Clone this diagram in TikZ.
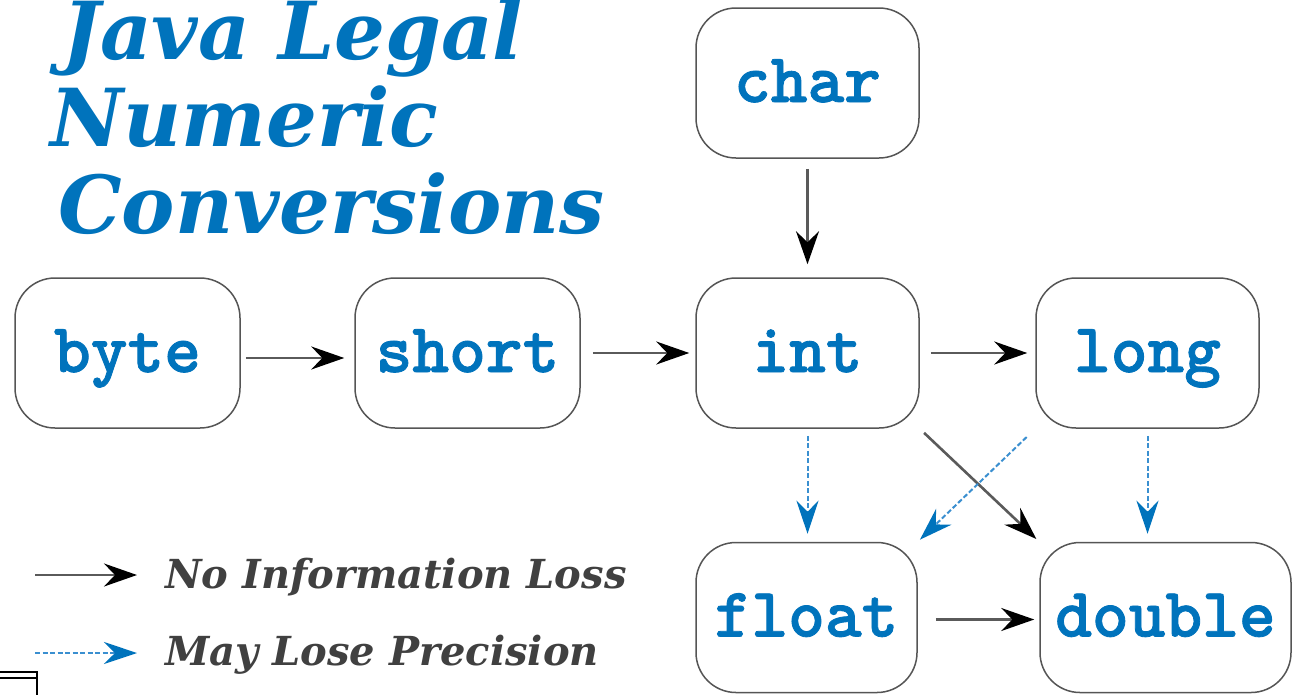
\documentclass[tikz,border=0pt]{standalone}
\usepackage{fontspec}
\setmainfont{DejaVu Serif}
\newfontfamily\codefont{lmmonolt10-bold.otf}[FakeBold=1.2]
\usetikzlibrary{arrows.meta}
\definecolor{jblue}{HTML}{0073BC}
\definecolor{dblue}{HTML}{3A8FD0}
\definecolor{boxgray}{HTML}{555555}
\definecolor{legendgray}{HTML}{404040}
\definecolor{linegray}{HTML}{5A5A5A}
\tikzset{
  typebox/.style={draw=boxgray, line width=1.5pt, rounded corners=40pt, fill=white,
    minimum height=150pt, inner sep=0pt, text=jblue,
    font=\codefont\fontsize{70}{70}\selectfont,
    text height=44pt, text depth=6pt},
  solidarr/.style={draw=linegray, line width=2.6pt,
    -{Stealth[length=33pt,width=23pt,inset=11pt,color=black]}},
  lossarr/.style={draw=dblue, line width=2pt, dash pattern=on 5pt off 2.5pt,
    -{Stealth[length=33pt,width=22pt,inset=11pt,color=jblue]}},
  titletext/.style={text=jblue, inner sep=0pt,
    font=\bfseries\itshape\fontsize{80}{80}\selectfont},
  legendtext/.style={text=legendgray, inner sep=0pt,
    font=\bfseries\itshape\fontsize{40}{40}\selectfont}
}
\begin{document}
\begin{tikzpicture}[x=1pt,y=-1pt]
\useasboundingbox (0,0) rectangle (1295,694);
\fill[white] (0,0) rectangle (1295,694);

% title
\node[titletext, anchor=base west] (t1) at (62,59) {Java Legal};
\node[titletext, anchor=base west] (t2) at (50,146) {Numeric};
\node[titletext, anchor=base west] (t3) at (58,233) {Conversions};

% type boxes
\node[typebox, minimum width=223pt] (char)   at (807.5,83)  {char};
\node[typebox, minimum width=225pt] (byte)   at (127.5,353) {byte};
\node[typebox, minimum width=225pt] (short)  at (467.5,353) {short};
\node[typebox, minimum width=223pt] (int)    at (807.5,353) {int};
\node[typebox, minimum width=223pt] (long)   at (1147.5,353) {long};
\node[typebox, minimum width=221pt] (float)  at (806.5,617.5) {float};
\node[typebox, minimum width=251pt] (double) at (1165.5,617.5) {double};

% connectors
\draw[solidarr, shorten <=10pt, shorten >=13pt] (char.south) -- (int.north);
\draw[solidarr, shorten <=5pt, shorten >=10pt] ([yshift=-5pt]byte.east) -- ([yshift=-5pt]short.west);
\draw[solidarr, shorten <=12pt, shorten >=6pt] (short.east) -- (int.west);
\draw[solidarr, shorten <=11pt, shorten >=8pt] (int.east) -- (long.west);
\draw[solidarr, shorten <=18pt, shorten >=5pt] ([yshift=-2pt]float.east) -- ([yshift=-2pt]double.west);
\draw[solidarr, shorten <=6pt, shorten >=4pt] (int.south east) -- (double.north west);
\draw[lossarr, shorten <=7pt, shorten >=8pt] (int.south) -- (int.south |- float.north);
\draw[lossarr, shorten <=7pt, shorten >=8pt] (long.south) -- (long.south |- double.north);
\draw[lossarr, shorten <=12pt, shorten >=3pt] (long.south west) -- (float.north east);

% legend
\coordinate (la1) at (35,575);
\coordinate (lb1) at (137,575);
\coordinate (la2) at (35,653);
\coordinate (lb2) at (137,653);
\draw[solidarr] (la1) -- (lb1);
\draw[lossarr] (la2) -- (lb2);
\node[legendtext, anchor=base west] (leg1) at (165,588) {No Information Loss};
\node[legendtext, anchor=base west] (leg2) at (165,665) {May Lose Precision};

% corner fragment
\draw[black, line width=1.4pt] (0,672) -- (37,672) -- (37,696);
\draw[black, line width=1.4pt] (0,678) -- (36,678);
\end{tikzpicture}
\end{document}
